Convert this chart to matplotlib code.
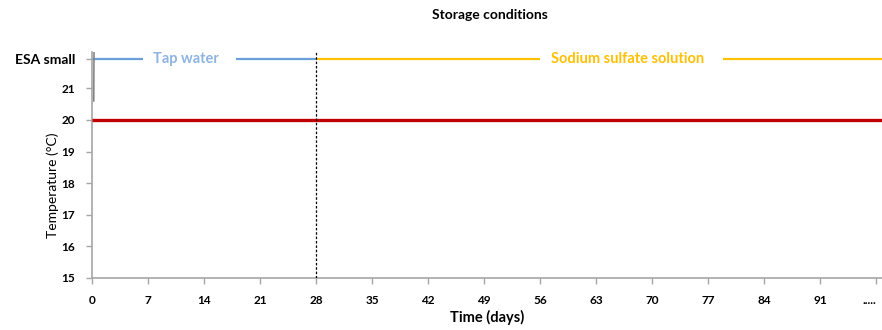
import matplotlib
matplotlib.use("Agg")
import matplotlib.pyplot as plt

plt.rcParams['font.family'] = ['Lato', 'DejaVu Sans']

# Data
days_ticks = [0, 7, 14, 21, 28, 35, 42, 49, 56, 63, 70, 77, 84, 91, 98]
day_labels = ['0', '7', '14', '21', '28', '35', '42', '49', '56', '63', '70', '77', '84', '91', '.....']
temp_ticks = [15, 16, 17, 18, 19, 20, 21, 21.93]
temp_labels = ['15', '16', '17', '18', '19', '20', '21', 'ESA small']

red_days = [0, 98.75]
red_temp = [20, 20]

esa_level = 21.93
tap_days_a = [0, 6.4]
tap_days_b = [18, 28]
sod_days_a = [28, 56]
sod_days_b = [78.9, 98.75]
esa_days = [0.22, 0.25]
esa_temp = [20.6, 22.15]
switch_day = 28

fig = plt.figure(figsize=(8.82, 3.30), dpi=100)
ax = fig.add_axes([92/882, 1-278/330, 1-92/882, (278-52)/330])
ax.set_xlim(0, 98.75)
ax.set_ylim(15, 22.15)

ax.plot(red_days, red_temp, color='#C00000', lw=2.4, solid_capstyle='butt', zorder=3)
ax.plot(tap_days_a, [esa_level]*2, color='#6A9FDB', lw=1.6, solid_capstyle='butt')
ax.plot(tap_days_b, [esa_level]*2, color='#6A9FDB', lw=1.6, solid_capstyle='butt')
ax.plot(sod_days_a, [esa_level]*2, color='#FFC000', lw=1.6, solid_capstyle='butt')
ax.plot(sod_days_b, [esa_level]*2, color='#FFC000', lw=1.6, solid_capstyle='butt')
ax.plot(esa_days, esa_temp, color='#7F7F7F', lw=1.1)
ax.axvline(switch_day, color='black', lw=0.9, ls=(0, (2, 1.5)), zorder=4)

ax.text(11.8, esa_level, 'Tap water', color='#8DB4E2', fontsize=10.5, fontweight='bold',
        ha='center', va='center')
ax.text(66.9, esa_level, 'Sodium sulfate solution', color='#FFC000', fontsize=10.5,
        fontweight='bold', ha='center', va='center')

ax.set_xticks(days_ticks)
ax.set_xticklabels(day_labels, fontsize=8.5, fontweight='bold')
ax.get_xticklabels()[-1].set_ha('right')
ax.set_yticks(temp_ticks)
ax.set_yticklabels(temp_labels, fontsize=8.5, fontweight='bold')
ax.get_yticklabels()[-1].set_fontsize(10)

for s in ['top', 'right']:
    ax.spines[s].set_visible(False)
for s in ['left', 'bottom']:
    ax.spines[s].set_color('#A6A6A6')
    ax.spines[s].set_linewidth(1.2)
ax.tick_params(axis='both', colors='#A6A6A6', labelcolor='black', length=4, width=1)
ax.tick_params(axis='x', pad=8)
ax.tick_params(axis='y', pad=8)

ax.set_xlabel('Time (days)', fontsize=10.5, fontweight='bold', labelpad=3)
ax.set_ylabel('Temperature (°C)', fontsize=10)
ax.yaxis.set_label_coords((59-92)/790, (278-185)/226)
fig.text(490/882, 1-15/330, 'Storage conditions', fontsize=10, fontweight='bold',
         ha='center', va='center')

fig.savefig('out.png', dpi=100)
